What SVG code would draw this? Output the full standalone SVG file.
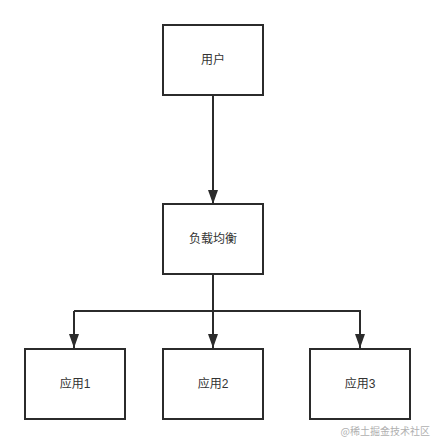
<svg xmlns="http://www.w3.org/2000/svg" width="435" height="444" viewBox="0 0 435 444">
<style>
.box{fill:#fff;stroke:#2b2b2b;stroke-width:2}
.lbl{font-family:"Liberation Sans","Noto Sans CJK SC",sans-serif;font-size:12px;fill:#333;text-anchor:middle;dominant-baseline:central}
.edge{fill:none;stroke:#2b2b2b;stroke-width:2}
.wm{font-family:"Noto Sans CJK SC",sans-serif;font-size:10px;fill:#b0b0b0;text-anchor:end}
</style>
<defs>
<marker id="ah" viewBox="0 0 14 10" refX="14" refY="5" markerUnits="userSpaceOnUse" markerWidth="14" markerHeight="10" orient="auto">
<path d="M0,0 L14,5 L0,10 Z" fill="#2b2b2b"/>
</marker>
</defs>
<rect width="435" height="444" fill="#fff"/>
<g id="edges">
<path class="edge" d="M213,95 V204" marker-end="url(#ah)"/>
<path class="edge" d="M213,274 V348" marker-end="url(#ah)"/>
<path class="edge" d="M74,311 H360 V348" marker-end="url(#ah)"/>
<path class="edge" d="M74,311 V348" marker-end="url(#ah)"/>
</g>
<g id="user"><rect class="box" x="163" y="25" width="100" height="70"/><text class="lbl" x="213" y="60">用户</text></g>
<g id="lb"><rect class="box" x="163" y="204" width="100" height="70"/><text class="lbl" x="213" y="239">负载均衡</text></g>
<g id="app1"><rect class="box" x="25" y="349" width="100" height="70"/><text class="lbl" x="75" y="384">应用1</text></g>
<g id="app2"><rect class="box" x="163" y="349" width="100" height="70"/><text class="lbl" x="213" y="384">应用2</text></g>
<g id="app3"><rect class="box" x="310" y="349" width="100" height="70"/><text class="lbl" x="360" y="384">应用3</text></g>
<text class="wm" x="430" y="435">@稀土掘金技术社区</text>
</svg>
